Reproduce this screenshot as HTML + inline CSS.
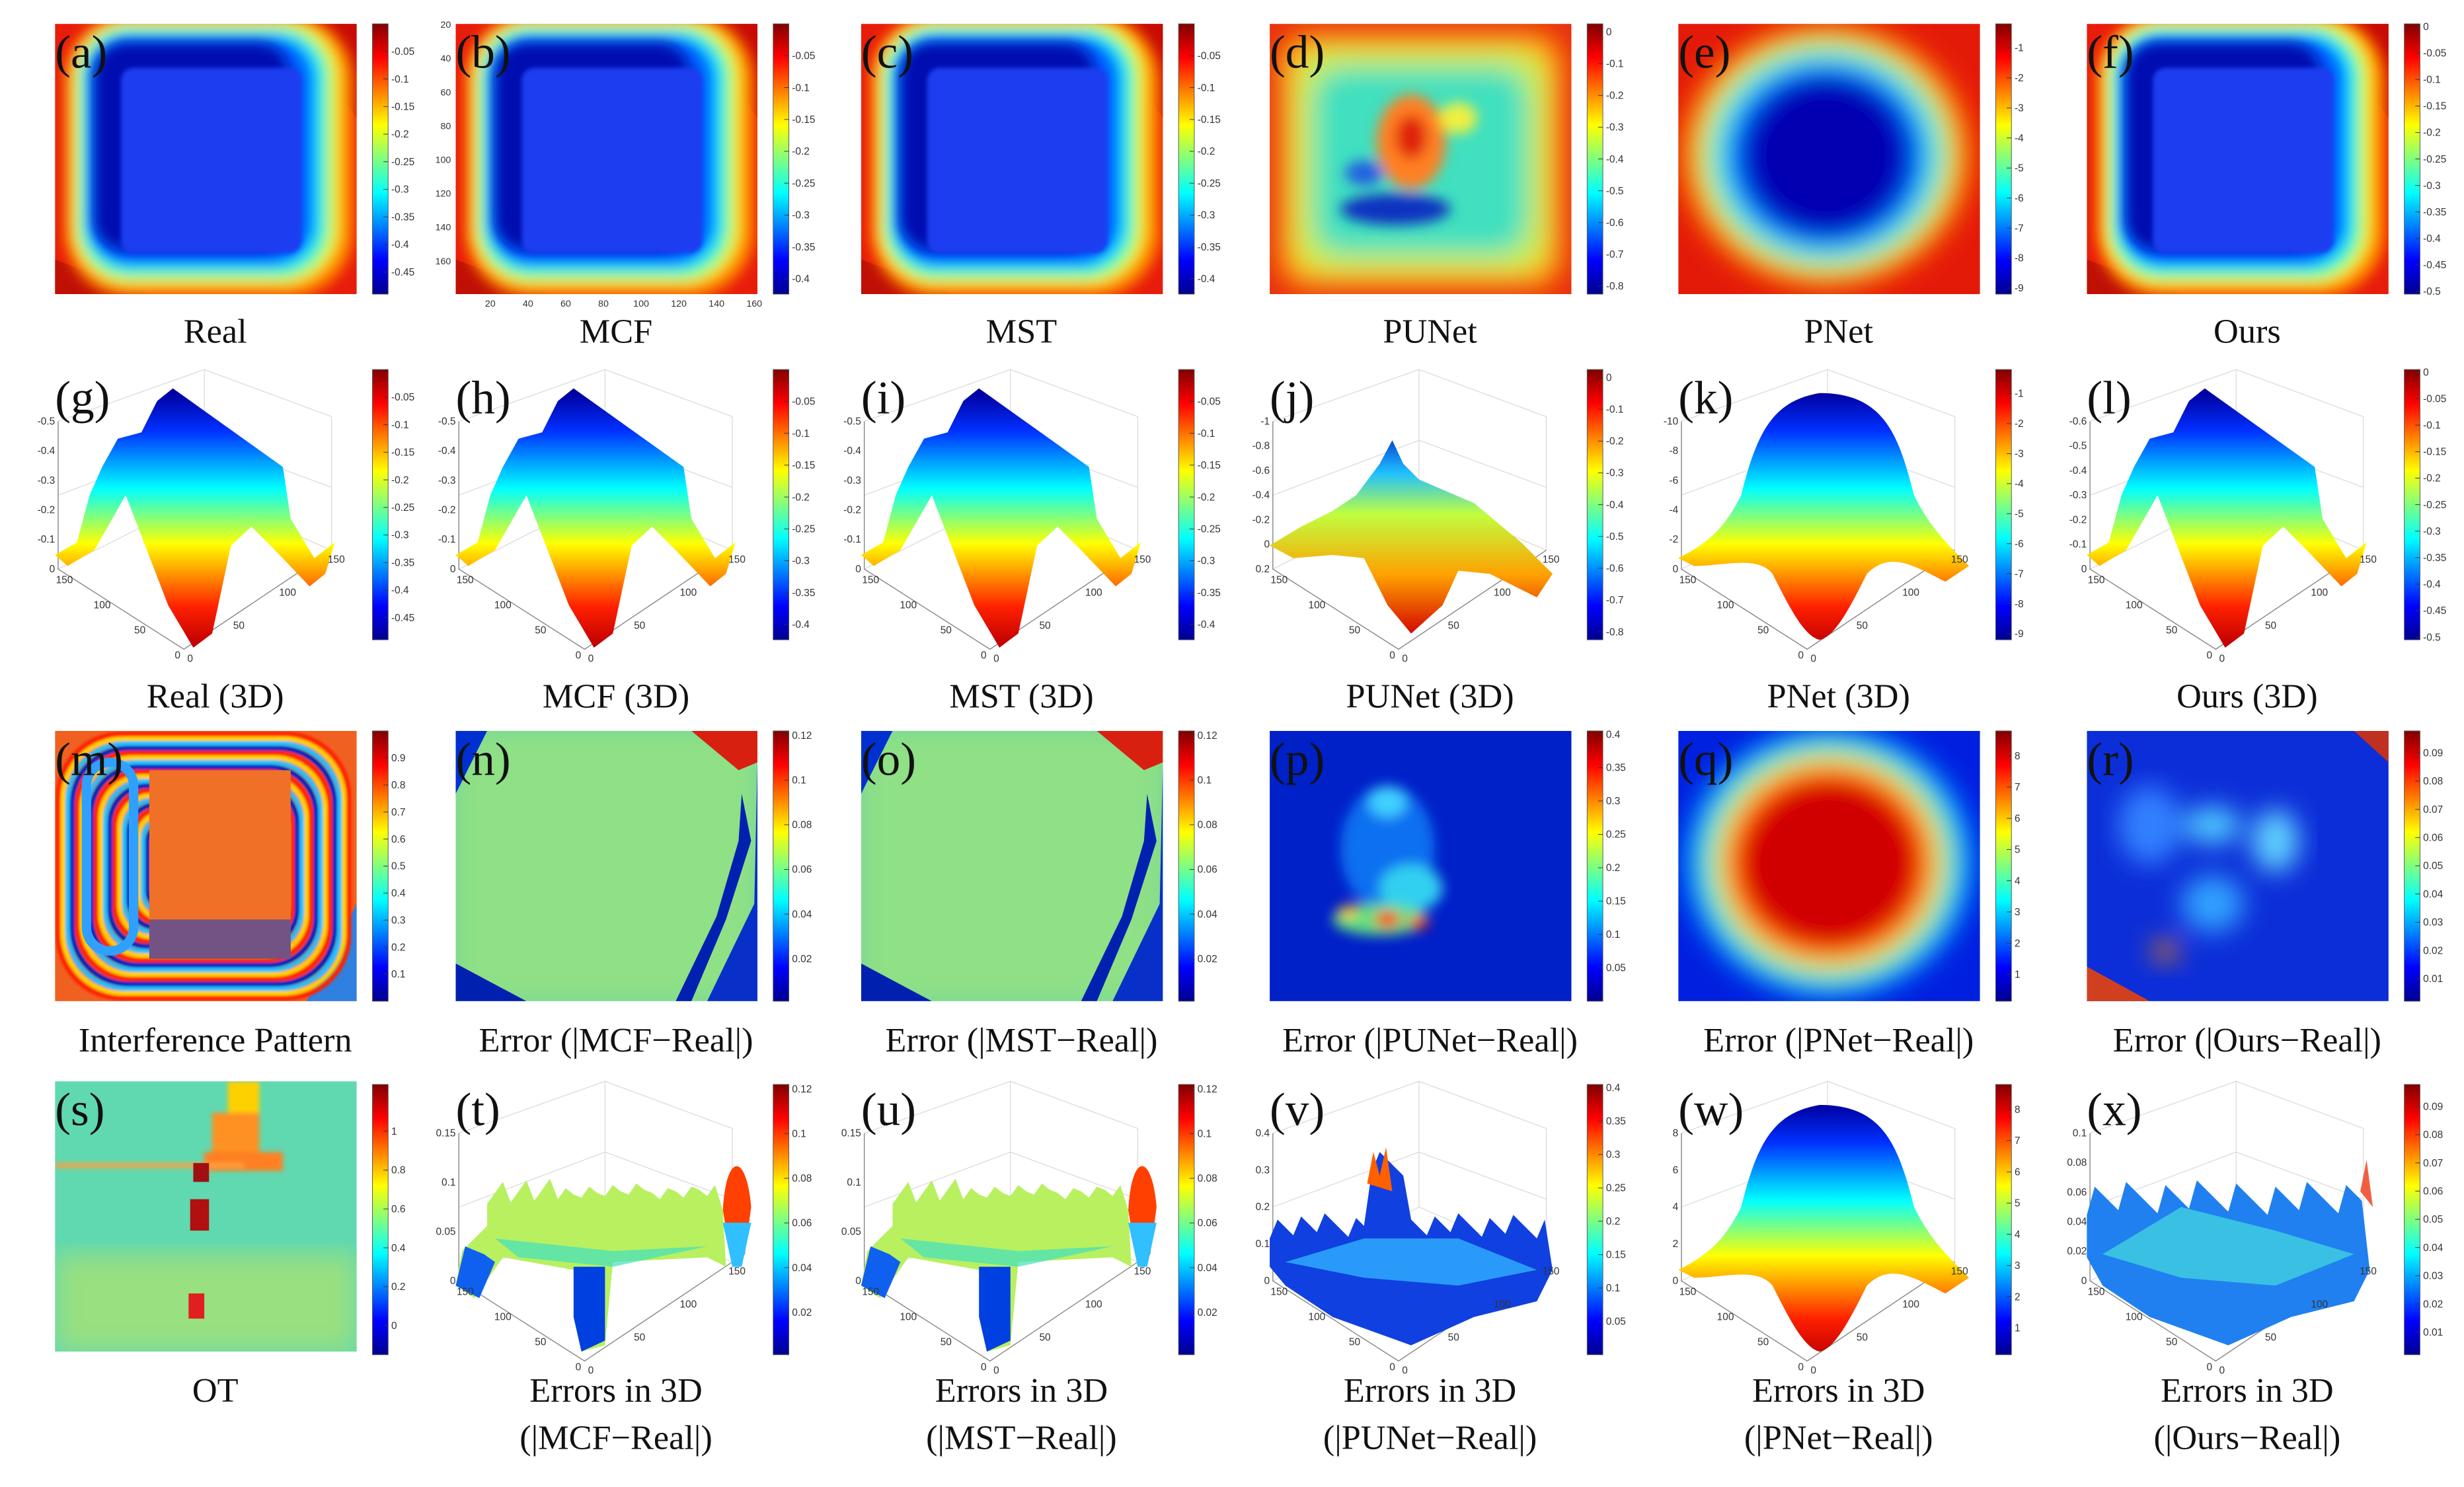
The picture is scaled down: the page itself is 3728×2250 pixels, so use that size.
<!DOCTYPE html>
<html><head><meta charset="utf-8">
<style>
html,body{margin:0;padding:0;background:#fff;}
svg{display:block;}
.lab{font-family:"Liberation Serif",serif;fill:#111;}
.tk{font-family:"Liberation Sans",sans-serif;fill:#333;}
</style></head>
<body>
<svg id="fig" xmlns="http://www.w3.org/2000/svg" width="3728" height="2250" viewBox="0 0 1568 946">
<defs>
<linearGradient id="jetV" x1="0" y1="1" x2="0" y2="0">
<stop offset="0" stop-color="#00008f"/><stop offset="0.125" stop-color="#0000ff"/><stop offset="0.375" stop-color="#00ffff"/><stop offset="0.625" stop-color="#ffff00"/><stop offset="0.875" stop-color="#ff0000"/><stop offset="1" stop-color="#800000"/>
</linearGradient>
<filter id="bl8"><feGaussianBlur stdDeviation="8"/></filter>
<filter id="bl4"><feGaussianBlur stdDeviation="4"/></filter>
<filter id="bl2"><feGaussianBlur stdDeviation="1.5"/></filter>
<filter id="bl1"><feGaussianBlur stdDeviation="0.8"/></filter>
<clipPath id="cp"><rect x="0" y="0" width="192" height="172"/></clipPath>
</defs>
</svg>
<script>
// ---- data ----
const letters = ["a","b","c","d","e","f","g","h","i","j","k","l","m","n","o","p","q","r","s","t","u","v","w","x"];
const captions = ["Real","MCF","MST","PUNet","PNet","Ours",
 "Real (3D)","MCF (3D)","MST (3D)","PUNet (3D)","PNet (3D)","Ours (3D)",
 "Interference Pattern","Error (|MCF\u2212Real|)","Error (|MST\u2212Real|)","Error (|PUNet\u2212Real|)","Error (|PNet\u2212Real|)","Error (|Ours\u2212Real|)",
 "OT","Errors in 3D","Errors in 3D","Errors in 3D","Errors in 3D","Errors in 3D"];
const captions2 = ["","","","","","","","","","","","","","","","","","","","(|MCF\u2212Real|)","(|MST\u2212Real|)","(|PUNet\u2212Real|)","(|PNet\u2212Real|)","(|Ours\u2212Real|)"];
const cbMin = [-0.49,-0.424,-0.424,-0.825,-9.2,-0.505, -0.49,-0.424,-0.424,-0.825,-9.2,-0.505, 0,0.001,0.001,0,0.14,0.002, -0.15,0.001,0.001,0,0.14,0.002];
const cbMax = [0,0,0,0.025,-0.2,0.005, 0,0,0,0.025,-0.2,0.005, 1,0.122,0.122,0.405,8.8,0.0978, 1.24,0.122,0.122,0.405,8.8,0.0978];
const tkReal = ["-0.05","-0.1","-0.15","-0.2","-0.25","-0.3","-0.35","-0.4","-0.45"];
const tkMcf = ["-0.05","-0.1","-0.15","-0.2","-0.25","-0.3","-0.35","-0.4"];
const tkPu = ["0","-0.1","-0.2","-0.3","-0.4","-0.5","-0.6","-0.7","-0.8"];
const tkPn = ["-1","-2","-3","-4","-5","-6","-7","-8","-9"];
const tkOurs = ["0","-0.05","-0.1","-0.15","-0.2","-0.25","-0.3","-0.35","-0.4","-0.45","-0.5"];
const tkInt = ["0.1","0.2","0.3","0.4","0.5","0.6","0.7","0.8","0.9"];
const tkErr = ["0.02","0.04","0.06","0.08","0.1","0.12"];
const tkErrP = ["0.05","0.1","0.15","0.2","0.25","0.3","0.35","0.4"];
const tkErrQ = ["1","2","3","4","5","6","7","8"];
const tkErrR = ["0.01","0.02","0.03","0.04","0.05","0.06","0.07","0.08","0.09"];
const tkOT = ["0","0.2","0.4","0.6","0.8","1"];
const cbTicks = [tkReal,tkMcf,tkMcf,tkPu,tkPn,tkOurs, tkReal,tkMcf,tkMcf,tkPu,tkPn,tkOurs, tkInt,tkErr,tkErr,tkErrP,tkErrQ,tkErrR, tkOT,tkErr,tkErr,tkErrP,tkErrQ,tkErrR];
const zTicks3D = [["-0.5","-0.4","-0.3","-0.2","-0.1","0"],["-0.5","-0.4","-0.3","-0.2","-0.1","0"],["-0.5","-0.4","-0.3","-0.2","-0.1","0"],["-1","-0.8","-0.6","-0.4","-0.2","0","0.2"],["-10","-8","-6","-4","-2","0"],["-0.6","-0.5","-0.4","-0.3","-0.2","-0.1","0"],
 ["0.15","0.1","0.05","0"],["0.15","0.1","0.05","0"],["0.4","0.3","0.2","0.1","0"],["8","6","4","2","0"],["0.1","0.08","0.06","0.04","0.02","0"]];
const xyTicks = ["0","50","100","150"];

// ---- layout ----
const colX = [35,290,548,808,1068,1328];
const rowY = [15,235,465,688];
const NS = "http://www.w3.org/2000/svg";
const svg = document.getElementById("fig");
function el(tag, parent){ const e=document.createElementNS(NS,tag); parent.appendChild(e); return e; }

function heat(type){
 switch(type){
 case "ring": return `<rect width="192" height="172" fill="#e81c0a"/><polygon points="150,0 192,0 192,60" fill="#c80a05"/><polygon points="0,150 0,172 60,172" fill="#c01005"/>
 <g filter="url(#bl4)"><rect x="6" y="-6" width="184" height="180" rx="42" fill="#ff8a00"/><rect x="11" y="-2" width="170" height="168" rx="36" fill="#f0f020"/><rect x="15" y="2" width="160" height="160" rx="32" fill="#60ffa0"/><rect x="18" y="5" width="152" height="152" rx="30" fill="#00d8ff"/><rect x="22" y="9" width="142" height="144" rx="26" fill="#0060ff"/></g>
 <rect x="25" y="12" width="124" height="132" rx="20" fill="#0010b0" filter="url(#bl4)"/><rect x="42" y="28" width="115" height="118" rx="8" fill="#1a3cf0" filter="url(#bl2)"/>`;
 case "punet": return `<rect width="192" height="172" fill="#e83010"/><g filter="url(#bl8)"><rect x="6" y="6" width="180" height="162" rx="20" fill="#ffb000"/><rect x="16" y="16" width="160" height="142" rx="20" fill="#c8f050"/><rect x="28" y="28" width="136" height="118" rx="20" fill="#40e0c0"/></g>
 <g filter="url(#bl4)"><ellipse cx="90" cy="75" rx="22" ry="30" fill="#ff8020"/><ellipse cx="90" cy="72" rx="10" ry="14" fill="#e02010"/><ellipse cx="80" cy="118" rx="35" ry="10" fill="#1030c0"/><ellipse cx="60" cy="95" rx="12" ry="8" fill="#2060e0"/><ellipse cx="120" cy="60" rx="12" ry="10" fill="#f0f040"/></g>`;
 case "pnet": return `<rect width="192" height="172" fill="#e41a08"/><g filter="url(#bl8)"><ellipse cx="94" cy="84" rx="92" ry="84" fill="#ff9800"/><ellipse cx="94" cy="84" rx="80" ry="74" fill="#b0ff40"/><ellipse cx="94" cy="84" rx="72" ry="66" fill="#00e0ff"/><ellipse cx="94" cy="84" rx="62" ry="58" fill="#0030f0"/><ellipse cx="94" cy="84" rx="50" ry="48" fill="#0000b0"/></g>`;
 case "interf": { let s=`<rect width="192" height="172" fill="#f06020"/><polygon points="160,172 192,110 192,172" fill="#3080e0"/><g filter="url(#bl1)">`; const cols=["#ff2000","#ffd000","#20c0ff","#0020c0"]; for(let i=0;i<6;i++){ for(let j=0;j<4;j++){ const d=i*12+j*3; s+=`<rect x="${2+d}" y="${2+d}" width="${185-2*d}" height="${168-2*d}" rx="${Math.max(6,40-d/2)}" fill="none" stroke="${cols[j]}" stroke-width="3"/>`; } } s+=`</g><rect x="60" y="25" width="90" height="120" fill="#f07028"/><rect x="20" y="20" width="30" height="120" rx="15" fill="none" stroke="#30a0ff" stroke-width="6"/><rect x="60" y="120" width="90" height="25" fill="#2040c0" opacity="0.6"/>`; return s; }
 case "errflat": return `<rect width="192" height="172" fill="#72d89a"/><rect width="192" height="172" fill="#c8f060" opacity="0.35" filter="url(#bl8)"/><polygon points="0,0 20,0 0,40" fill="#0030d0"/><polygon points="0,148 0,172 45,172" fill="#0020b0"/><polygon points="150,0 192,0 192,20 180,25" fill="#d82010"/><polygon points="192,20 192,172 160,172 190,110" fill="#0830c8"/><polygon points="182,40 188,70 172,120 150,172 140,172 166,118 180,70" fill="#0020b0"/>`;
 case "errp": return `<rect width="192" height="172" fill="#0020c8"/><g filter="url(#bl4)"><ellipse cx="75" cy="75" rx="30" ry="40" fill="#1070f0"/><ellipse cx="90" cy="100" rx="20" ry="15" fill="#30d0f0"/><ellipse cx="75" cy="45" rx="12" ry="10" fill="#40d0ff"/><ellipse cx="70" cy="120" rx="30" ry="10" fill="#60e080"/><ellipse cx="75" cy="120" rx="8" ry="5" fill="#ff2000"/><ellipse cx="95" cy="122" rx="6" ry="4" fill="#ff2000"/><ellipse cx="50" cy="115" rx="6" ry="4" fill="#ffc000"/></g>`;
 case "errq": return `<rect width="192" height="172" fill="#0020e0"/><g filter="url(#bl8)"><ellipse cx="96" cy="84" rx="92" ry="86" fill="#00a0ff"/><ellipse cx="96" cy="84" rx="80" ry="76" fill="#40ffb0"/><ellipse cx="96" cy="84" rx="72" ry="68" fill="#ffd000"/><ellipse cx="96" cy="84" rx="64" ry="60" fill="#ff2000"/><ellipse cx="96" cy="84" rx="55" ry="52" fill="#d00000"/></g>`;
 case "errr": return `<rect width="192" height="172" fill="#0c2ed8"/><g filter="url(#bl8)"><ellipse cx="40" cy="60" rx="20" ry="25" fill="#3080ff"/><ellipse cx="80" cy="60" rx="18" ry="12" fill="#50c8ff"/><ellipse cx="120" cy="70" rx="15" ry="20" fill="#60d0ff"/><ellipse cx="80" cy="110" rx="20" ry="18" fill="#30a0ff"/><ellipse cx="50" cy="140" rx="8" ry="6" fill="#ff8000"/></g><polygon points="170,0 192,0 192,20" fill="#c03020"/><polygon points="0,150 0,172 40,172" fill="#d04020"/>`;
 case "ot": return `<rect width="192" height="172" fill="#60d8b0"/><rect x="0" y="110" width="192" height="62" fill="#98e080" filter="url(#bl8)"/><g filter="url(#bl2)"><rect x="110" y="0" width="20" height="20" fill="#ffd000"/><rect x="100" y="20" width="30" height="30" fill="#ff9020"/><rect x="95" y="45" width="50" height="12" fill="#ff8020"/><rect x="0" y="52" width="120" height="3" fill="#ffa040"/></g><rect x="88" y="52" width="10" height="12" fill="#a01010"/><rect x="86" y="75" width="12" height="20" fill="#b01010"/><rect x="85" y="135" width="10" height="16" fill="#e02020"/>`;
 }
}
function surf(type){
 const grad=`<defs><linearGradient id="sg_${type}" gradientUnits="userSpaceOnUse" x1="0" y1="175" x2="0" y2="15"><stop offset="0" stop-color="#c00000"/><stop offset="0.15" stop-color="#ff2000"/><stop offset="0.4" stop-color="#ffff00"/><stop offset="0.62" stop-color="#00ffff"/><stop offset="0.85" stop-color="#0030ff"/><stop offset="1" stop-color="#0000a0"/></linearGradient></defs>`;
 const f=`fill="url(#sg_${type})"`;
 switch(type){
 case "mount": return grad+`<polygon ${f} points="0,118 14,110 22,80 30,62 40,44 55,40 65,20 75,12 145,62 150,95 165,120 178,110 172,130 162,138 140,115 125,100 112,112 100,168 88,177 72,150 45,80 25,115 8,125"/>`;
 case "pu": return `<defs><linearGradient id="sg_pu" gradientUnits="userSpaceOnUse" x1="0" y1="170" x2="0" y2="40"><stop offset="0" stop-color="#d00000"/><stop offset="0.3" stop-color="#ffa000"/><stop offset="0.6" stop-color="#c0ff40"/><stop offset="0.8" stop-color="#20c0ff"/><stop offset="1" stop-color="#0030d0"/></linearGradient></defs><polygon fill="url(#sg_pu)" points="0,112 20,100 40,90 55,80 70,60 78,45 85,60 95,70 130,85 160,110 180,130 170,145 140,130 120,128 110,150 90,168 75,150 60,120 40,118 15,120"/>`;
 case "pn": return grad+`<path ${f} d="M0,120 C20,110 30,100 40,80 C50,40 60,20 90,15 C130,15 140,40 150,80 C160,100 170,110 185,125 L170,135 C150,125 135,115 120,130 C110,150 100,170 90,172 C80,170 70,150 60,130 C50,118 30,125 10,125 Z"/>`;
 case "err": { let p="0,130 4,108 10,102 20,92"; for(let i=0;i<30;i++){ const x=20+i*5; const y=78-((i*37)%11)-((i%3)*3); p+=` ${x},${y}`; } p+=" 170,82 172,118 160,112 100,115 95,168 80,172 75,120 30,112 12,138"; return `<polygon fill="#b8f060" points="${p}"/><polygon fill="#40e0c0" opacity="0.7" points="25,100 100,108 160,105 100,118 40,112"/><polygon fill="#0040e0" points="75,118 95,118 95,165 80,172 75,150"/><polygon fill="#1060f0" points="0,130 6,105 18,110 25,115 15,138"/><path d="M170,82 C172,45 185,45 188,80 L184,110 L176,118 Z" fill="#ff4000"/><path d="M170,90 L188,90 L182,118 L176,118 Z" fill="#30c0ff"/>`; }
 case "errv": { let p="0,118"; for(let i=0;i<36;i++){ const x=i*5; const y=100-((i*29)%17)-(i>12&&i<18?40:0); p+=` ${x},${y}`; } p+=" 180,120 170,140 130,150 90,168 40,150 10,130"; return `<polygon fill="#1040e0" points="${p}"/><polygon fill="#30b0ff" opacity="0.8" points="10,115 60,100 120,100 170,120 120,130 60,125"/><polygon fill="#ff6000" points="62,65 66,45 70,60 74,42 78,70"/>`; }
 case "errx": { let p="0,112"; for(let i=0;i<36;i++){ const x=i*5; const y=85-((i*41)%23); p+=` ${x},${y}`; } p+=" 180,120 170,140 130,150 90,168 40,150 10,130"; return `<polygon fill="#2080f0" points="${p}"/><polygon fill="#40d0e0" opacity="0.8" points="10,110 60,80 120,95 170,110 120,130 60,125"/><polygon fill="#f06040" points="174,70 178,50 182,80"/>`; }
 }
}
const types=["ring","ring","ring","punet","pnet","ring","mount","mount","mount","pu","pn","mount","interf","errflat","errflat","errp","errq","errr","ot","err","err","errv","pn","errx"];
let z3=0;
for(let i=0;i<24;i++){
 const r=Math.floor(i/6), c=i%6;
 const x0=colX[c], y0=rowY[r];
 const is3D = (r===1) || (r===3 && c>0);
 const g=el("g",svg);
 g.setAttribute("transform",`translate(${x0},${y0})`);
 
 
 const plot=el("g",g);
 
 
 if(!is3D){
  plot.setAttribute("clip-path","url(#cp)");
  plot.innerHTML=heat(types[i]);
 } else {
  const ticks=zTicks3D[z3++];
  let fr=`<g stroke="#d8d8d8" stroke-width="0.5" fill="none"><polyline points="2,33 95,0 176,30 176,115"/><polyline points="2,127 95,80 176,115"/><line x1="95" y1="0" x2="95" y2="80"/><polyline points="2,80 95,45 176,75"/></g><g stroke="#888" stroke-width="0.6" fill="none"><polyline points="2,33 2,127 82,178 176,115"/></g>`;
  plot.innerHTML=fr+surf(types[i]);
  const n=ticks.length;
  for(let k=0;k<n;k++){
   const t=el("text",g); t.setAttribute("class","tk"); t.setAttribute("font-size","6.5"); t.setAttribute("text-anchor","end");
   t.setAttribute("x",0); t.setAttribute("y",33+(94*k/(n-1))+2);
   t.textContent=ticks[k];
   
   
  }
  for(let k=0;k<4;k++){
   const a=el("text",g); a.setAttribute("class","tk"); a.setAttribute("font-size","6.5"); a.setAttribute("text-anchor","middle");
   a.setAttribute("x",78-k*24); a.setAttribute("y",184-k*16); a.textContent=xyTicks[k];
   
   
   const b=el("text",g); b.setAttribute("class","tk"); b.setAttribute("font-size","6.5"); b.setAttribute("text-anchor","middle");
   b.setAttribute("x",86+k*31); b.setAttribute("y",186-k*21); b.textContent=xyTicks[k];
   
   
  }
 }
 if(i===1){
  const yl=["20","40","60","80","100","120","140","160"], xl=["20","40","60","80","100","120","140","160"];
  for(let k=0;k<8;k++){
   const t=el("text",g); t.setAttribute("class","tk"); t.setAttribute("font-size","6"); t.setAttribute("text-anchor","end");
   t.setAttribute("x",-3); t.setAttribute("y",(k+1)*21.5-19); t.textContent=yl[k];
    
   const u=el("text",g); u.setAttribute("class","tk"); u.setAttribute("font-size","6"); u.setAttribute("text-anchor","middle");
   u.setAttribute("x",(k+1)*24-2); u.setAttribute("y",180); u.textContent=xl[k];
    
  }
 }
 const L=el("text",g); L.setAttribute("class","lab"); L.setAttribute("font-size","30"); L.setAttribute("x",0); L.setAttribute("y",28);
 if(r===2) L.setAttribute("fill", "#f4f4f4");
 L.textContent="("+letters[i]+")";
 
 
 const cy0 = (r===3)?2:0, ch=172;
 const cb=el("g",g);
 
 
 const rc=el("rect",cb); rc.setAttribute("x",202); rc.setAttribute("y",cy0); rc.setAttribute("width",10); rc.setAttribute("height",ch); rc.setAttribute("fill","url(#jetV)"); rc.setAttribute("stroke","#555"); rc.setAttribute("stroke-width","0.4");
 const lo=cbMin[i], hi=cbMax[i];
 const yOf=v=> cy0 + ch*(hi-v)/(hi-lo);
 cbTicks[i].forEach(lbl=>{
  const yy=yOf(parseFloat(lbl));
  const ln=el("line",cb); ln.setAttribute("x1",209); ln.setAttribute("x2",212); ln.setAttribute("y1",yy); ln.setAttribute("y2",yy); ln.setAttribute("stroke","#333"); ln.setAttribute("stroke-width","0.4");
  const t=el("text",cb); t.setAttribute("class","tk"); t.setAttribute("font-size","6.5"); t.setAttribute("x",214); t.setAttribute("y",yy+2.2); t.textContent=lbl;
  
  
 });
 const capY=[211,443,662,885][r];
 const cap=el("text",svg); cap.setAttribute("class","lab"); cap.setAttribute("font-size","22"); cap.setAttribute("text-anchor","middle");
 cap.setAttribute("x",x0+102); cap.setAttribute("y",capY+7); cap.textContent=captions[i];
 
 
 if(captions2[i]){
  const c2=el("text",svg); c2.setAttribute("class","lab"); c2.setAttribute("font-size","22"); c2.setAttribute("text-anchor","middle");
  c2.setAttribute("x",x0+102); c2.setAttribute("y",922); c2.textContent=captions2[i];
  
  
 }
}
</script>
</body></html>
